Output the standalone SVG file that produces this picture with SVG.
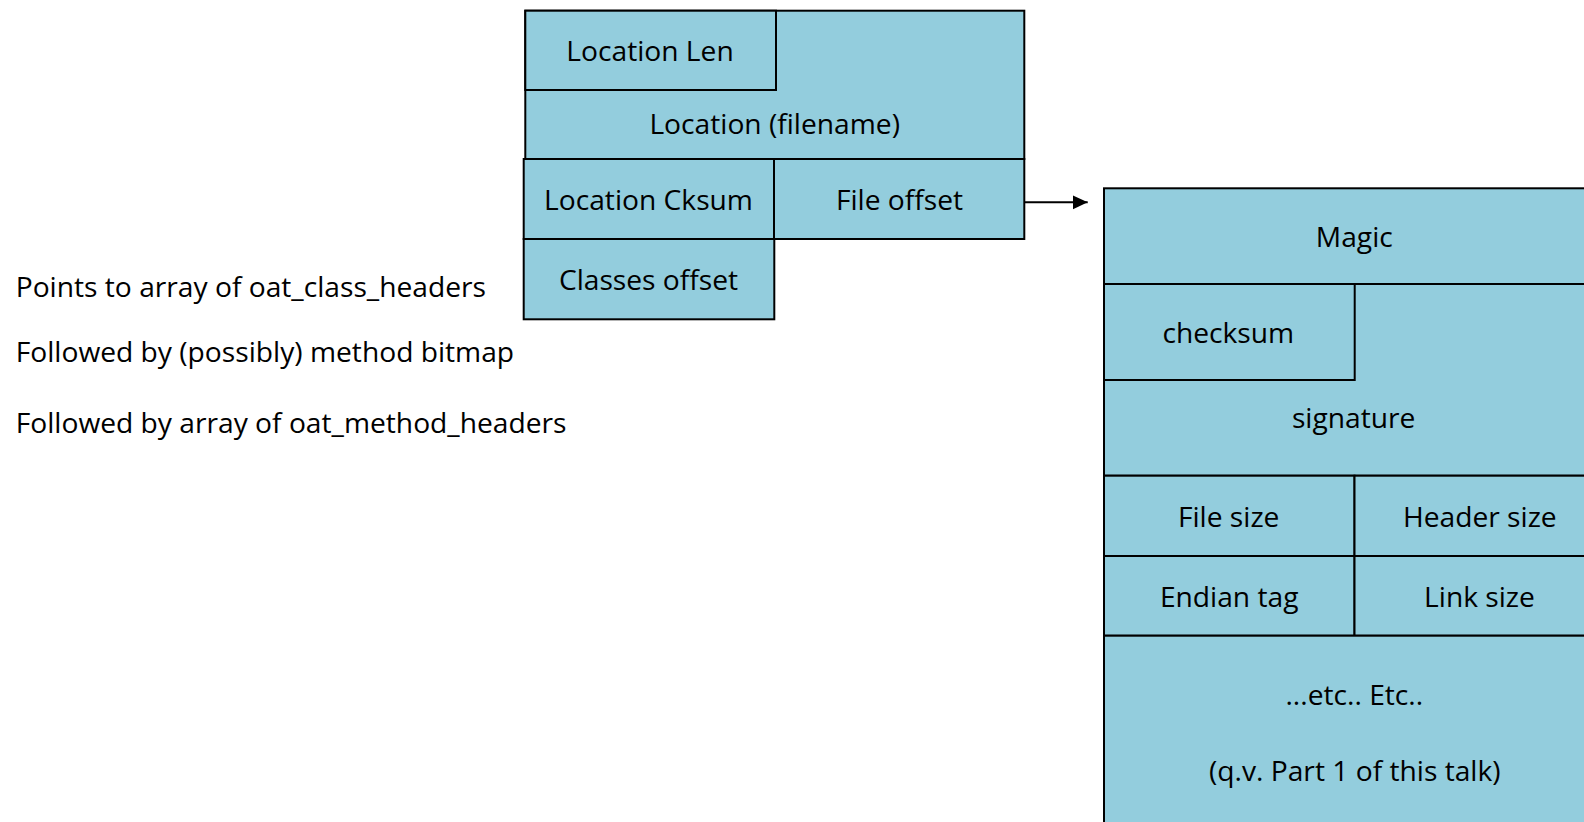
<svg xmlns="http://www.w3.org/2000/svg" width="1584" height="822" viewBox="0 0 1584 822">
  <defs>
    <style>
      .cell { fill: #93CDDD; stroke: #000; stroke-width: 2; }
      .lbl { font-family: "Open Sans", "Noto Sans", sans-serif; font-size: 28.2px; fill: #000; text-anchor: middle; }
      .note { font-family: "Open Sans", "Noto Sans", sans-serif; font-size: 28.2px; fill: #000; text-anchor: start; }
      .conn { stroke: #000; stroke-width: 2; fill: none; }
    </style>
    <marker id="arrow" markerUnits="userSpaceOnUse" markerWidth="16" markerHeight="16" refX="15" refY="7" orient="auto">
      <path d="M0,0 L15,7 L0,14 Z" fill="#000"/>
    </marker>
  </defs>
  <rect width="1584" height="822" fill="#fff"/>

  <!-- oat_dex_file header structure -->
  <g id="node-location-filename">
    <rect class="cell" x="525.3" y="10.7" width="499" height="148.3"/>
    <text class="lbl" x="774.7" y="134">Location (filename)</text>
  </g>
  <g id="node-location-len">
    <rect class="cell" x="525.3" y="10.7" width="250.7" height="79.3"/>
    <text class="lbl" x="650" y="61.2">Location Len</text>
  </g>
  <g id="node-location-cksum">
    <rect class="cell" x="523.7" y="159" width="250.3" height="80"/>
    <text class="lbl" x="648.5" y="210">Location Cksum</text>
  </g>
  <g id="node-file-offset">
    <rect class="cell" x="774" y="159" width="250.3" height="80"/>
    <text class="lbl" x="899.5" y="210">File offset</text>
  </g>
  <g id="node-classes-offset">
    <rect class="cell" x="523.7" y="239" width="250.6" height="80.3"/>
    <text class="lbl" x="648.5" y="289.8">Classes offset</text>
  </g>

  <!-- notes -->
  <g id="notes">
    <text class="note" x="15.7" y="296.7">Points to array of oat_class_headers</text>
    <text class="note" x="15.7" y="362">Followed by (possibly) method bitmap</text>
    <text class="note" x="15.7" y="433">Followed by array of oat_method_headers</text>
  </g>

  <!-- dex file header -->
  <g id="node-magic">
    <rect class="cell" x="1104" y="188.3" width="502" height="95.7"/>
    <text class="lbl" x="1354.3" y="246.7">Magic</text>
  </g>
  <g id="node-signature">
    <rect class="cell" x="1104" y="284" width="502" height="191.7"/>
    <text class="lbl" x="1353.7" y="428.3">signature</text>
  </g>
  <g id="node-checksum">
    <rect class="cell" x="1104" y="284" width="250.7" height="96"/>
    <text class="lbl" x="1228.3" y="342.7">checksum</text>
  </g>
  <g id="node-file-size">
    <rect class="cell" x="1104" y="475.7" width="250.5" height="80.3"/>
    <text class="lbl" x="1228.7" y="526.7">File size</text>
  </g>
  <g id="node-header-size">
    <rect class="cell" x="1354.5" y="475.7" width="251.5" height="80.3"/>
    <text class="lbl" x="1479.8" y="526.7">Header size</text>
  </g>
  <g id="node-endian-tag">
    <rect class="cell" x="1104" y="556" width="250.5" height="79.7"/>
    <text class="lbl" x="1229.2" y="606.7">Endian tag</text>
  </g>
  <g id="node-link-size">
    <rect class="cell" x="1354.5" y="556" width="251.5" height="79.7"/>
    <text class="lbl" x="1479.5" y="606.7">Link size</text>
  </g>
  <g id="node-etc">
    <rect class="cell" x="1104" y="635.7" width="502" height="200"/>
    <text class="lbl" x="1354.3" y="705">...etc.. Etc..</text>
    <text class="lbl" x="1354.8" y="780.7">(q.v. Part 1 of this talk)</text>
  </g>

  <!-- connectors -->
  <g id="connectors">
    <line class="conn" x1="1024.3" y1="202.3" x2="1087.7" y2="202.3" marker-end="url(#arrow)"/>
  </g>
</svg>
